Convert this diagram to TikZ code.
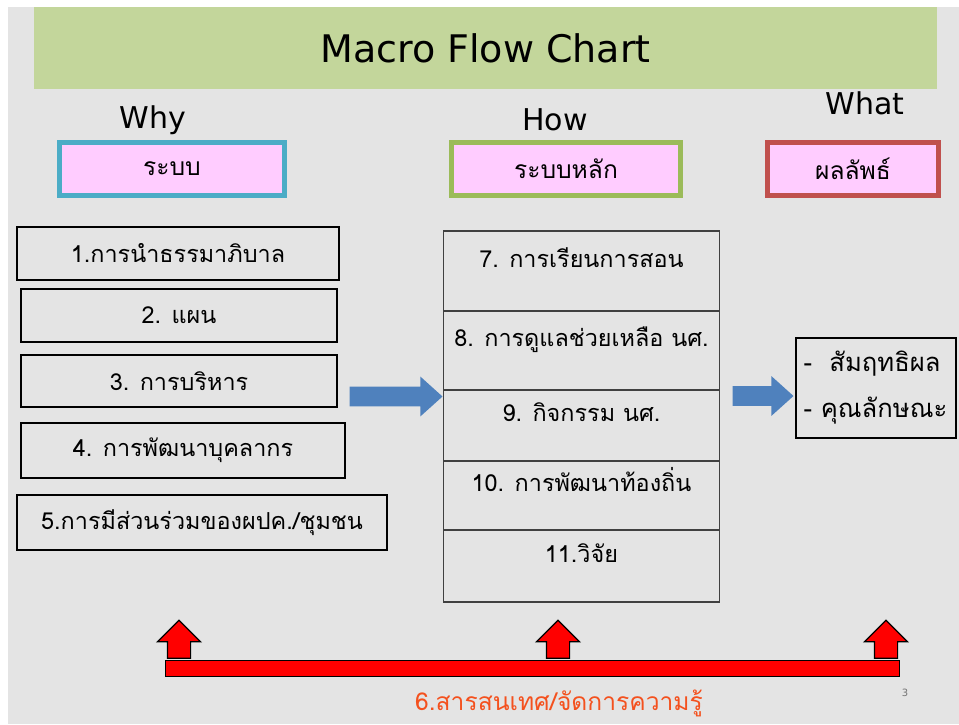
\documentclass[tikz,border=0pt]{standalone}
\usepackage{fontspec}
\setmainfont{DejaVu Sans}
\newfontfamily\thaifont[Script=Thai]{Loma}
\usetikzlibrary{positioning}
\usetikzlibrary{calc}
\usetikzlibrary{shapes.arrows}
\definecolor{slidegrey}{HTML}{E4E4E4}
\definecolor{titlegreen}{HTML}{C3D69B}
\definecolor{headpink}{HTML}{FFCCFF}
\definecolor{whycyan}{HTML}{4BACC6}
\definecolor{howgreen}{HTML}{9BBB59}
\definecolor{whatred}{HTML}{C0504D}
\definecolor{flowblue}{HTML}{4F81BD}
\definecolor{infoorange}{HTML}{F4511E}
\tikzset{>=latex}
\tikzstyle{wlabel}=[font=\fontsize{15}{18}\selectfont]
\tikzstyle{headbox}=[draw, line width=2.5pt, fill=headpink, minimum height=26.5pt, font=\thaifont\fontsize{12.3}{15}\selectfont]
\tikzstyle{listbox}=[draw=black, line width=1pt, font=\thaifont\fontsize{11.7}{14}\selectfont]
\tikzstyle{rowbox}=[draw=black!75, line width=0.8pt, outer sep=0pt, minimum width=138pt, text height=9pt, text depth=13pt, font=\thaifont\fontsize{11.7}{14}\selectfont]
\tikzstyle{flowarrow}=[single arrow, fill=flowblue, inner xsep=0pt, inner ysep=4.75pt, single arrow head extend=5pt, single arrow tip angle=84]
\tikzstyle{uparrow}=[single arrow, fill=red, draw=black, line width=0.6pt, rotate=90, inner xsep=0pt, inner ysep=5.5pt, single arrow head extend=5pt, minimum height=19pt]

\begin{document}
\begin{tikzpicture}[x=0.5pt, y=-0.5pt]

	% slide
	\useasboundingbox (0, 0) rectangle (959, 724);
	\fill[slidegrey] (8, 7) rectangle (959, 724);
	\node[fill=titlegreen, minimum width=451.5pt, minimum height=41pt, font=\fontsize{19}{22}\selectfont] (title) at (485.5, 48) {Macro Flow Chart};

	% Why / How / What
	\node[wlabel] (why) at (153, 120) {Why};
	\node[wlabel] (how) at (555, 120) {How};
	\node[wlabel] (what) at (865, 103) {What};
	\node[headbox, draw=whycyan, minimum width=112.5pt] (sys) at (172, 169) {ระบบ};
	\node[headbox, draw=howgreen, minimum width=114.5pt] (core) at (566, 169) {ระบบหลัก};
	\node[headbox, draw=whatred, minimum width=85.5pt] (result) at (853, 169) {ผลลัพธ์};

	% systems
	\node[listbox, minimum width=161pt, minimum height=26.5pt] (sys1) at (178, 253.5) {1.การนำธรรมาภิบาล};
	\node[listbox, minimum width=158pt, minimum height=26.5pt] (sys2) at (179, 315.5) {2. แผน};
	\node[listbox, minimum width=158pt, minimum height=26pt] (sys3) at (179, 381) {3. การบริหาร};
	\node[listbox, minimum width=162pt, minimum height=27.5pt] (sys4) at (183, 450.5) {4. การพัฒนาบุคลากร};
	\node[listbox, minimum width=185pt, minimum height=27.5pt] (sys5) at (202, 522.5) {5.การมีส่วนร่วมของผปค./ชุมชน};

	% core systems
	\node[rowbox, minimum height=40pt] (row7) at (581.5, 271) {7. การเรียนการสอน};
	\node[rowbox, minimum height=39.5pt, below=0pt of row7] (row8) {8. การดูแลช่วยเหลือ นศ.};
	\node[rowbox, minimum height=35.5pt, below=0pt of row8] (row9) {9. กิจกรรม นศ.};
	\node[rowbox, minimum height=34.5pt, below=0pt of row9] (row10) {10. การพัฒนาท้องถิ่น};
	\node[rowbox, minimum height=36pt, below=0pt of row10] (row11) {11.วิจัย};

	% outcomes
	\node[draw=black, line width=1pt, minimum width=80pt, minimum height=50pt, inner xsep=2pt, align=left, font=\thaifont\fontsize{12.8}{23}\selectfont] (outcome) at (875.5, 388) {- \ สัมฤทธิผล\\- คุณลักษณะ};

	\node[flowarrow, minimum height=46.5pt] (flowin) at (390.5, 396.5) {};
	\node[flowarrow, minimum height=30.5pt] (flowout) at (757.5, 396) {};

	% information
	\node[fill=red, draw=black, line width=0.6pt, inner sep=0pt, minimum width=367pt, minimum height=8pt] (infobar) at (532.5, 668.5) {};
	\node[uparrow] (upwhy) at (179, 645) {};
	\node[uparrow] (uphow) at (558, 645) {};
	\node[uparrow] (upwhat) at (886, 645) {};
	\node[text=infoorange, font=\thaifont\fontsize{12.3}{15}\selectfont] (info) at (559, 703) {6.สารสนเทศ/จัดการความรู้};
	\node[text=black!55, font=\fontsize{5}{6}\selectfont] (pagenum) at (905, 693) {3};

\end{tikzpicture}
\end{document}
